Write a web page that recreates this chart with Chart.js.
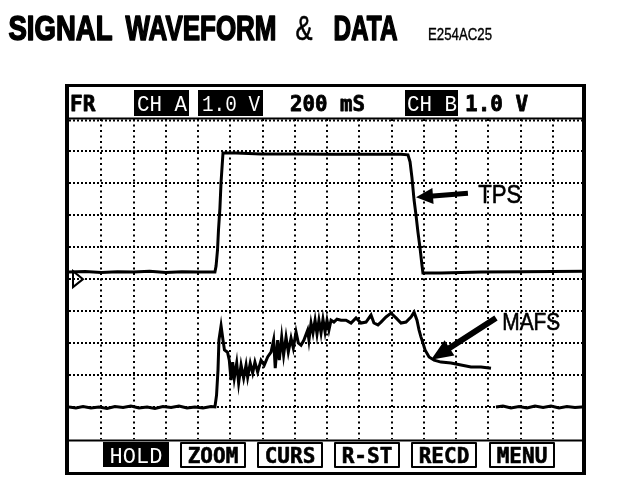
<!DOCTYPE html>
<html lang="en">
<head>
<meta charset="UTF-8">
<title>Signal Waveform &amp; Data</title>
<script src="https://cdn.jsdelivr.net/npm/chart.js"></script>
<style>
    body {
        margin: 0;
        background: #fff;
    }

    #scope {
        display: block;
    }
</style>
</head>
<body>
<canvas id="scope" width="624" height="484"></canvas>
<script>
    // scope settings: 200 ms per division, 16 divisions across, 1.0 V per division, 10 down
    const msPerDiv = 200;
    const timeDivs = 16;
    const voltDivs = 10;

    const titleWords = ['SIGNAL', 'WAVEFORM', '&', 'DATA'];
    const figureCode = 'E254AC25';
    const headerLabels = ['FR', 'CH A', '1.0 V', '200 mS', 'CH B', '1.0 V'];
    const buttonLabels = ['HOLD', 'ZOOM', 'CURS', 'R-ST', 'RECD', 'MENU'];
    const traceNames = ['TPS', 'MAFS'];

    // channel A : TPS (ms, V)
    const tpsTime = [0, 100, 200, 300, 400, 500, 600, 700, 800,
        905, 912, 921, 927, 936, 943, 955,
        1036, 1191, 1439, 1625, 1811, 2059,
        2102, 2115, 2127, 2140, 2152, 2164, 2177, 2189, 2195,
        2307, 2555, 2803, 3000, 3200];
    const tpsVolts = [0.22, 0.24, 0.21, 0.23, 0.22, 0.25, 0.21, 0.23, 0.22,
        0.22, 0.41, 0.91, 1.53, 2.22, 3.03, 3.94,
        3.94, 3.91, 3.91, 3.90, 3.90, 3.90,
        3.88, 3.66, 3.16, 2.47, 2.00, 1.47, 0.97, 0.44, 0.19,
        0.19, 0.22, 0.23, 0.24, 0.25];

    // channel B : MAFS (ms, V) - null marks where the new sweep ends
    const mafsTime = [0, 43, 87, 136, 186, 236, 285, 335, 384, 434, 484, 533, 583, 633, 682, 732, 781, 831, 881, 905,
        915, 924, 930, 943, 955, 964, 983, 994, 1005, 1015, 1025, 1040, 1052, 1067, 1083, 1098, 1108, 1124, 1139, 1153,
        1170, 1191, 1211, 1232, 1253, 1269, 1279, 1294, 1304, 1319, 1331, 1346, 1360, 1377, 1391, 1408, 1422, 1439,
        1457, 1480, 1488, 1501, 1513, 1526, 1538, 1550, 1563, 1575, 1588, 1600, 1612, 1625, 1643, 1662, 1687, 1718,
        1749, 1780, 1811, 1842, 1873, 1891, 1916, 1935, 1966, 1997, 2028, 2059, 2090, 2121, 2140, 2158, 2171, 2183,
        2195, 2208, 2233, 2264, 2307, 2369, 2431, 2493, 2555, 2617,
        2632,
        2648, 2691, 2741, 2791, 2840, 2890, 2940, 2989, 3039, 3088, 3138, 3200];
    const mafsVolts = [1.01, 0.98, 1.02, 0.98, 1.01, 0.96, 1.02, 0.99, 1.04, 0.98, 1.01, 0.96, 1.02, 0.99, 1.04, 0.98, 1.01, 0.98, 1.02, 1.01,
        1.38, 2.16, 3.10, 3.54, 3.10, 2.79, 2.72, 2.47, 1.85, 2.41, 1.91, 2.38, 1.76, 2.32, 1.91, 2.32, 1.94, 2.38, 2.07, 2.41,
        2.10, 2.47, 2.32, 2.57, 2.72, 3.10, 2.22, 3.10, 2.47, 3.19, 2.63, 3.19, 2.72, 3.16, 2.85, 3.35, 3.01, 2.94,
        3.10, 3.41, 3.10, 3.63, 3.32, 3.72, 3.29, 3.72, 3.32, 3.75, 3.35, 3.72, 3.41, 3.72, 3.66, 3.75, 3.72, 3.72,
        3.63, 3.79, 3.63, 3.66, 3.88, 3.63, 3.57, 3.66, 3.82, 3.94, 3.79, 3.63, 3.66, 3.82, 3.97, 3.72, 3.41, 3.19,
        3.01, 2.79, 2.57, 2.47, 2.41, 2.38, 2.32, 2.26, 2.26, 2.22,
        null,
        1.01, 1.04, 0.98, 1.02, 0.98, 1.04, 0.99, 1.04, 0.98, 1.02, 0.99, 1.02];

    const BLACK = '#000';
    const BOLD_MONO = 'bold 21px "DejaVu Sans Mono"';
    const THIN_MONO = '22px "Liberation Mono"';

    function toPoints(xs, ys) {
        return xs.map((x, i) => ({ x: x, y: ys[i] }));
    }

    function putText(ctx, str, x, y, font, maxW, color, align, heavy) {
        ctx.font = font;
        ctx.fillStyle = color || BLACK;
        ctx.textAlign = align || 'left';
        ctx.textBaseline = 'alphabetic';
        ctx.fillText(str, x, y, maxW);
        if (heavy) {
            // thicken the glyphs a little, like the printed original
            ctx.strokeStyle = color || BLACK;
            ctx.lineWidth = heavy;
            ctx.lineJoin = 'round';
            ctx.strokeText(str, x, y, maxW);
        }
    }

    function arrow(ctx, x1, y1, x2, y2, shaft, headLen, headHalf) {
        const len = Math.hypot(x2 - x1, y2 - y1);
        const ux = (x2 - x1) / len, uy = (y2 - y1) / len;
        const nx = -uy, ny = ux;
        const bx = x2 - ux * headLen, by = y2 - uy * headLen;
        ctx.beginPath();
        ctx.moveTo(x1 + nx * shaft / 2, y1 + ny * shaft / 2);
        ctx.lineTo(bx + nx * shaft / 2, by + ny * shaft / 2);
        ctx.lineTo(bx + nx * headHalf, by + ny * headHalf);
        ctx.lineTo(x2, y2);
        ctx.lineTo(bx - nx * headHalf, by - ny * headHalf);
        ctx.lineTo(bx - nx * shaft / 2, by - ny * shaft / 2);
        ctx.lineTo(x1 - nx * shaft / 2, y1 - ny * shaft / 2);
        ctx.closePath();
        ctx.fillStyle = BLACK;
        ctx.fill();
    }

    const scopeScreen = {
        id: 'scopeScreen',
        beforeDatasetsDraw(chart) {
            const ctx = chart.ctx;
            const area = chart.chartArea;
            const x = chart.scales.x, yB = chart.scales.yB;
            ctx.save();
            ctx.strokeStyle = BLACK;
            ctx.lineWidth = 2;
            // vertical dotted lines
            ctx.setLineDash([2, 3.5]);
            for (let i = 1; i < timeDivs; i++) {
                const px = Math.round(x.getPixelForValue(i * msPerDiv));
                ctx.beginPath();
                ctx.moveTo(px, area.top);
                ctx.lineTo(px, area.bottom);
                ctx.stroke();
            }
            // horizontal dotted lines
            ctx.setLineDash([2, 2]);
            for (let j = 1; j <= voltDivs; j++) {
                const py = Math.round(yB.getPixelForValue(j)) + (j === voltDivs ? 1.5 : 0);
                ctx.beginPath();
                ctx.moveTo(area.left, py);
                ctx.lineTo(area.right, py);
                ctx.stroke();
            }
            ctx.restore();
        },
        afterDatasetsDraw(chart) {
            const ctx = chart.ctx;
            const x = chart.scales.x, yA = chart.scales.yA, yB = chart.scales.yB;
            ctx.save();

            // channel A ground marker
            const g = yA.getPixelForValue(0);
            ctx.strokeStyle = BLACK;
            ctx.lineWidth = 2;
            ctx.beginPath();
            ctx.moveTo(73, g - 8);
            ctx.lineTo(83, g);
            ctx.lineTo(73, g + 8);
            ctx.closePath();
            ctx.stroke();

            // trace labels with arrows
            arrow(ctx, x.getPixelForValue(2474), yA.getPixelForValue(2.68),
                x.getPixelForValue(2152), yA.getPixelForValue(2.56), 5, 17, 8);
            putText(ctx, traceNames[0], x.getPixelForValue(2538), yA.getPixelForValue(2.38),
                '25px "Liberation Sans"', 43, BLACK, 'left', 0.6);
            arrow(ctx, x.getPixelForValue(2648), yB.getPixelForValue(3.79),
                x.getPixelForValue(2245), yB.getPixelForValue(2.48), 6, 22, 9);
            putText(ctx, traceNames[1], x.getPixelForValue(2687), yB.getPixelForValue(3.41),
                '24px "Liberation Sans"', 58, BLACK, 'left', 0.6);

            // frame of the scope screen
            ctx.fillStyle = BLACK;
            ctx.fillRect(65, 84, 4, 391);
            ctx.fillRect(65, 84, 521, 3);
            ctx.fillRect(582, 84, 4, 391);
            ctx.fillRect(65, 472, 521, 3);
            ctx.fillRect(69, 117.5, 513, 2);
            ctx.fillRect(69, 439.5, 513, 2);

            // header row
            const boxes = [[134, 55], [198, 65], [405, 53]];
            boxes.forEach(b => ctx.fillRect(b[0], 90, b[1], 26));
            const head = [
                [70, 27, BOLD_MONO, BLACK, 0.8],
                [137, 50, THIN_MONO, '#fff', 0],
                [202, 58, THIN_MONO, '#fff', 0],
                [290, 75, BOLD_MONO, BLACK, 0.8],
                [407, 50, THIN_MONO, '#fff', 0],
                [465, 68, BOLD_MONO, BLACK, 0.8]
            ];
            headerLabels.forEach((t, i) => putText(ctx, t, head[i][0], 111, head[i][2], head[i][1], head[i][3], 'left', head[i][4]));

            // soft keys
            buttonLabels.forEach((t, i) => {
                const bx = [103, 180, 257, 334, 411, 489][i];
                if (i === 0) {
                    ctx.fillStyle = BLACK;
                    ctx.fillRect(bx, 442, 66, 25);
                    putText(ctx, t, bx + 33, 463, THIN_MONO, 53, '#fff', 'center');
                } else {
                    ctx.strokeStyle = BLACK;
                    ctx.lineWidth = 2;
                    ctx.strokeRect(bx + 1, 443, 64, 24);
                    putText(ctx, t, bx + 33, 463, BOLD_MONO, 55, BLACK, 'center', 0.6);
                }
            });

            // page title
            const words = [[8, 104, 'bold', 1.6], [125, 151, 'bold', 1.6], [295, 17, 'normal', 0.6], [333, 64, 'bold', 1.6]];
            titleWords.forEach((t, i) => putText(ctx, t, words[i][0] + 0.5, 40,
                words[i][2] + ' 35px "Liberation Sans"', words[i][1], BLACK, 'left', words[i][3]));
            putText(ctx, figureCode, 428, 40, '17px "Liberation Sans"', 64, BLACK, 'left', 0.4);

            ctx.restore();
        }
    };

    new Chart(document.getElementById('scope'), {
        type: 'line',
        data: {
            datasets: [{
                label: traceNames[0],
                data: toPoints(tpsTime, tpsVolts),
                yAxisID: 'yA',
                borderColor: BLACK,
                borderWidth: 3,
                pointRadius: 0,
                tension: 0
            }, {
                label: traceNames[1],
                data: toPoints(mafsTime, mafsVolts),
                yAxisID: 'yB',
                borderColor: BLACK,
                borderWidth: 3,
                pointRadius: 0,
                tension: 0,
                spanGaps: false
            }]
        },
        options: {
            responsive: false,
            animation: false,
            events: [],
            layout: { padding: { left: 69, right: 39, top: 119, bottom: 44.7 } },
            plugins: {
                legend: { display: false },
                tooltip: { enabled: false }
            },
            scales: {
                x: { type: 'linear', min: 0, max: timeDivs * msPerDiv, display: false },
                yA: { type: 'linear', min: -voltDivs / 2, max: voltDivs / 2, display: false },
                yB: { type: 'linear', min: 0, max: voltDivs, display: false }
            }
        },
        plugins: [scopeScreen]
    });
</script>
</body>
</html>
